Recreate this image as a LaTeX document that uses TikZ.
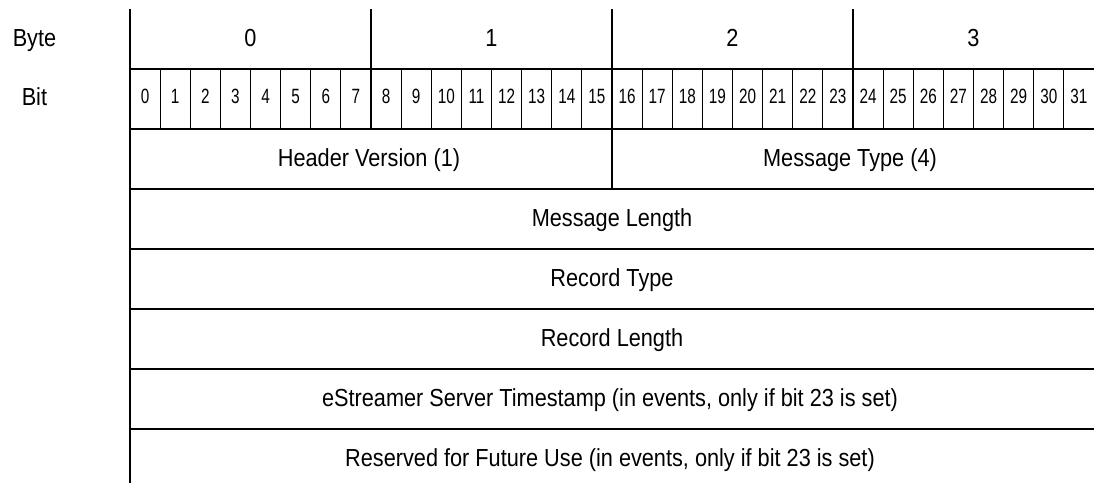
\documentclass[tikz,border=0pt]{standalone}
\usepackage{fontspec}
\setmainfont{Liberation Sans}[FakeStretch=0.88]
\newfontfamily\bitfont{Liberation Sans}[FakeStretch=0.74]
\begin{document}
\begin{tikzpicture}[x=0.75pt,y=-0.75pt,
  heavy/.style={line width=1.5pt},
  light/.style={line width=0.75pt},
  lbl/.style={font=\fontsize{18.5}{20}\selectfont, inner sep=0pt, anchor=base},
  bitlbl/.style={font=\bitfont\fontsize{15.5}{17}\selectfont, inner sep=0pt, anchor=base}]
\useasboundingbox (0,0) rectangle (1094,483);
% frame lines
\draw[heavy] (130,9) -- (130,483);
\foreach \x in {371,612,853} \draw[heavy] (\x,9) -- (\x,129);
\draw[heavy] (612,129) -- (612,189);
\foreach \y in {69,129,189,249,309,369,429} \draw[heavy] (130,\y) -- (1094,\y);
\foreach \i in {1,...,7,9,10,...,15,17,18,...,23,25,26,...,31}
  \draw[light] ({130+\i*30.125},69) -- ({130+\i*30.125},129);
% row labels
\node[lbl, anchor=base west] (byte) at (12.5,46) {Byte};
\node[lbl, anchor=base west] (bit) at (21.5,105) {Bit};
% byte numbers
\foreach \j in {0,...,3}
  \node[lbl] (B\j) at ({130+(\j+0.5)*241},46) {\j};
% bit numbers
\foreach \i in {0,...,31}
  \node[bitlbl] (b\i) at ({130+(\i+0.5)*30.125},103.3) {\i};
% fields
\node[lbl] (hv) at (369,166) {Header Version (1)};
\node[lbl] (mt) at (850,166) {Message Type (4)};
\node[lbl] (ml) at (612,226) {Message Length};
\node[lbl] (rt) at (612,286) {Record Type};
\node[lbl] (rl) at (612,346) {Record Length};
\node[lbl] (ts) at (610,406) {eStreamer Server Timestamp (in events, only if bit 23 is set)};
\node[lbl] (rf) at (610,466) {Reserved for Future Use (in events, only if bit 23 is set)};
\end{tikzpicture}
\end{document}
